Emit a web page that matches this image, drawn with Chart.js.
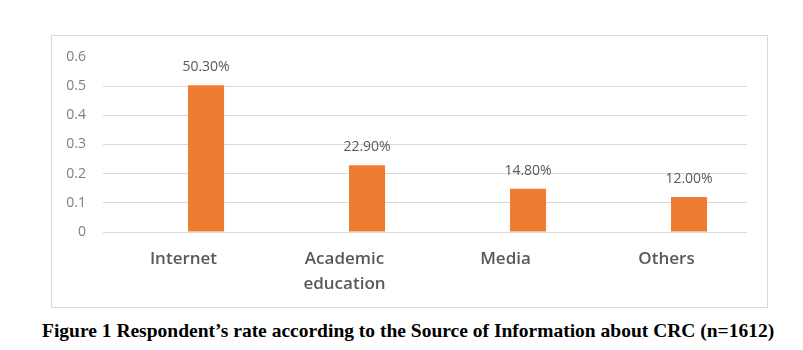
<!DOCTYPE html>
<html>
<head>
<meta charset="utf-8">
<script src="https://cdn.jsdelivr.net/npm/chart.js@4"></script>
<style>
  body { margin: 0; background: #fff; width: 803px; height: 350px; position: relative; overflow: hidden; }
  #frame { position: absolute; left: 51px; top: 35px; width: 715px; height: 271px; border: 1px solid #d9d9d9; }
  #frame canvas { display: block; }
  #caption { position: absolute; left: 42px; top: 320px; font: bold 19.5px "Liberation Serif", serif; color: #000; white-space: nowrap; }
</style>
</head>
<body>
<div id="frame"><canvas id="grafico" width="715" height="271"></canvas></div>
<div id="caption">Figure 1 Respondent’s rate according to the Source of Information about CRC (n=1612)</div>
<script>
const categorias = ["Internet", ["Academic", "education"], "Media", "Others"];
const valores = [0.503, 0.229, 0.148, 0.12];
const rotulos = ["50.30%", "22.90%", "14.80%", "12.00%"];
const vazio = [null, null, null, null];
const ticksY = ["0", "0.1", "0.2", "0.3", "0.4", "0.5", "0.6"];

// labels above the bars
const rotulosPlugin = {
  id: "rotulos",
  afterDatasetsDraw(chart) {
    const ctx = chart.ctx;
    const meta = chart.getDatasetMeta(1);
    ctx.save();
    ctx.font = "14px 'Open Sans'";
    ctx.fillStyle = "#595959";
    ctx.textAlign = "center";
    ctx.textBaseline = "middle";
    meta.data.forEach((bar, i) => {
      ctx.fillText(rotulos[i], bar.x, bar.y - 18);
    });
    ctx.restore();
  },
};

new Chart(document.getElementById("grafico"), {
  type: "bar",
  data: {
    labels: categorias,
    datasets: [
      // empty first series, like the excel original (keeps bars right of center)
      { label: "", data: vazio, backgroundColor: "#ED7D31" },
      {
        label: "Series2",
        data: valores,
        backgroundColor: "#ED7D31",
        borderWidth: 0,
      },
    ],
  },
  options: {
    responsive: false,
    animation: false,
    categoryPercentage: 0.56,
    barPercentage: 0.8,
    layout: { padding: { top: 21, right: 20, left: 0, bottom: 0 } },
    plugins: {
      legend: { display: false },
      tooltip: { enabled: false },
    },
    scales: {
      x: {
        grid: { display: false },
        border: { display: false },
        ticks: {
          color: "#595959",
          font: { family: "Open Sans", size: 17, weight: "600", lineHeight: 1.45 },
          padding: 7,
          maxRotation: 0,
        },
        afterFit: (scale) => { scale.height = 75; },
      },
      y: {
        min: 0,
        max: 0.6,
        border: { display: false },
        grid: {
          drawTicks: false,
          color: (c) => (c.tick && c.tick.value > 0.55 ? "rgba(0,0,0,0)" : "#d9d9d9"),
        },
        ticks: {
          stepSize: 0.1,
          padding: 17,
          color: "#808080",
          font: { family: "Open Sans", size: 14 },
          callback: (v, i) => ticksY[i],
        },
        afterFit: (scale) => {
          scale.width = 51;
          scale.paddingTop = 0;
          scale.paddingBottom = 0;
        },
      },
    },
  },
  plugins: [rotulosPlugin],
});
</script>
</body>
</html>
